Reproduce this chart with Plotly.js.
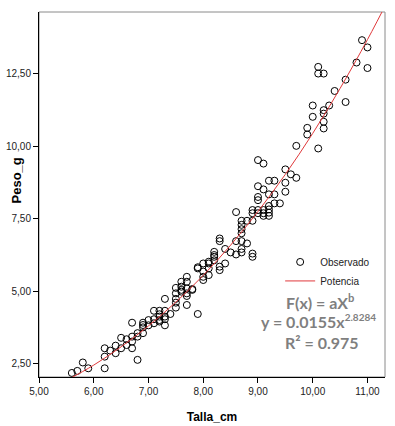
<!DOCTYPE html>
<html>
<head>
<meta charset="utf-8">
<script src="https://cdn.plot.ly/plotly-3.0.1.min.js"></script>
<style>
html,body{margin:0;padding:0;background:#fff;}
#chart{width:395px;height:426px;}
</style>
</head>
<body>
<div id="chart"></div>
<script>
var talla = [5.6,5.7,5.8,5.9,6.2,6.2,6.2,6.3,6.4,6.4,6.5,6.5,6.6,6.6,6.7,6.7,6.7,6.7,6.8,6.8,6.8,6.9,6.9,6.9,6.9,7.0,7.0,7.1,7.1,7.1,7.2,7.2,7.2,7.2,7.2,7.3,7.3,7.3,7.3,7.3,7.4,7.5,7.5,7.5,7.5,7.5,7.6,7.6,7.6,7.6,7.7,7.7,7.7,7.7,7.7,7.7,7.8,7.8,7.9,7.9,7.9,8.0,8.0,8.0,8.0,8.1,8.1,8.1,8.1,8.2,8.2,8.2,8.2,8.3,8.3,8.3,8.3,8.4,8.4,8.5,8.6,8.6,8.6,8.7,8.7,8.7,8.7,8.7,8.7,8.7,8.8,8.8,8.9,8.9,8.9,8.9,8.9,9.0,9.0,9.0,9.0,9.0,9.0,9.1,9.1,9.1,9.1,9.1,9.2,9.2,9.2,9.2,9.2,9.2,9.3,9.3,9.3,9.4,9.5,9.5,9.5,9.6,9.7,9.7,9.9,9.9,10.0,10.0,10.1,10.1,10.1,10.2,10.2,10.2,10.2,10.2,10.3,10.4,10.6,10.6,10.8,10.9,11.0,11.0];
var peso = [2.19,2.26,2.55,2.35,2.35,2.75,3.04,2.96,2.87,3.13,3.04,3.40,3.15,3.35,3.04,3.27,3.44,3.92,2.64,3.44,3.56,3.56,3.76,3.84,3.92,3.83,4.01,3.90,4.04,4.33,3.96,4.01,4.13,4.21,4.33,3.83,4.04,4.13,4.33,4.74,4.22,4.44,4.61,4.74,4.93,5.12,4.99,5.05,5.16,5.33,4.53,4.84,4.93,5.10,5.33,5.50,5.05,5.08,4.22,5.79,5.83,5.39,5.50,5.68,5.96,5.56,5.79,5.96,6.02,6.07,6.19,6.25,6.36,5.73,5.85,6.73,6.82,5.96,6.46,6.34,6.27,6.73,7.73,6.34,6.46,6.73,7.00,7.14,7.29,7.43,6.65,7.43,6.19,6.30,7.43,7.69,7.80,7.69,7.80,8.14,8.25,8.62,9.52,7.60,7.69,7.80,8.51,9.40,7.60,7.71,7.82,7.94,8.34,8.81,8.03,8.34,8.81,8.03,8.43,8.74,9.20,9.03,8.91,10.01,10.40,10.63,11.01,11.40,9.92,12.50,12.73,10.61,10.84,11.12,11.24,12.50,11.40,11.90,11.52,12.29,12.88,13.65,12.69,13.40];

// Fitted "Potencia" curve
var curvaX = [5.5,6.0,6.5,7.0,7.5,8.0,8.5,9.0,9.5,10.0,10.5,11.0,11.4];
var curvaY = [1.93,2.46,3.09,3.81,4.63,5.55,6.59,7.75,9.03,10.44,11.99,13.67,15.12];

// Axis ticks and texts
var xTicks = [5,6,7,8,9,10,11];
var yTicks = [2.5,5,7.5,10,12.5];
var xTitle = "Talla_cm";
var yTitle = "Peso_g";
var legendNames = ["Observado","Potencia"];
var eqLines = ["F(x) = aX<sup>b</sup>",
               "y = 0.0155x<sup><span style=\"font-size:10px\">2.8284</span></sup>",
               "R² = 0.975"];

var sans = "Liberation Sans, Arial, sans-serif";
var eqFont = "Lato, Carlito, Calibri, sans-serif";

var traces = [
  {x: talla, y: peso, type: "scatter", mode: "markers", name: legendNames[0],
   marker: {symbol: "circle-open", size: 7, color: "#000", line: {width: 1, color: "#000"}}},
  {x: curvaX, y: curvaY, type: "scatter", mode: "lines", name: legendNames[1],
   line: {color: "#e0393b", width: 1, shape: "spline"}}
];

var eqX = [0.8125, 0.8066, 0.8165];
var eqY = [0.2055, 0.1534, 0.0932];
var annotations = eqLines.map(function(t, i){
  return {xref: "paper", yref: "paper", x: eqX[i], y: eqY[i], xanchor: "center", yanchor: "middle",
          text: "<b>" + t + "</b>", showarrow: false,
          font: {family: eqFont, size: 16, color: "#7f7f7f"}};
});
annotations.push({xref: "paper", yref: "paper", x: -0.065, y: 0.537, xanchor: "center", yanchor: "middle",
                  textangle: -90, text: "<b>" + yTitle + "</b>", showarrow: false,
                  font: {family: sans, size: 13, color: "#000"}});

var layout = {
  width: 395, height: 426,
  margin: {l: 39, r: 10, t: 12, b: 49, pad: 0},
  paper_bgcolor: "#fff", plot_bgcolor: "#fff",
  separators: ",.",
  showlegend: true,
  legend: {x: 0.697, y: 0.355, xanchor: "left", yanchor: "top", bgcolor: "rgba(0,0,0,0)",
           font: {family: sans, size: 10, color: "#222"}, tracegroupgap: 0, itemwidth: 30},
  xaxis: {range: [5, 11.32], tickvals: xTicks, tickformat: ".2f", showgrid: false, zeroline: false,
          showline: true, linecolor: "#000", linewidth: 1, ticks: "outside", ticklen: 5, tickcolor: "#000",
          tickfont: {family: sans, size: 10, color: "#222"},
          title: {text: "<b>" + xTitle + "</b>", font: {family: sans, size: 12, color: "#000"}, standoff: 16}},
  yaxis: {range: [2.05, 14.62], tickvals: yTicks, tickformat: ".2f", showgrid: false, zeroline: false,
          showline: true, linecolor: "#000", linewidth: 1, ticks: "outside", ticklen: 5, tickcolor: "#000",
          tickfont: {family: sans, size: 10, color: "#222"}},
  shapes: [{type: "rect", xref: "paper", yref: "paper", x0: 0, x1: 1, y0: 0, y1: 1,
            line: {color: "#8a8a8a", width: 1}, layer: "below"}],
  annotations: annotations
};

Plotly.newPlot("chart", traces, layout, {staticPlot: true, displayModeBar: false});
</script>
</body>
</html>
